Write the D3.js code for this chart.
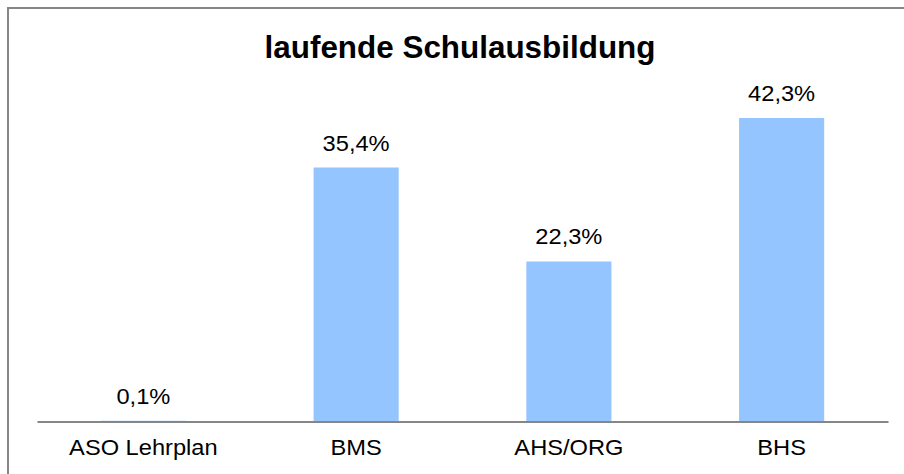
<!DOCTYPE html>
<html>
<head>
<meta charset="utf-8">
<script src="https://cdn.jsdelivr.net/npm/d3@7"></script>
<style>
  html, body { margin: 0; padding: 0; background: #ffffff; }
  svg { display: block; }
  text { font-family: "Liberation Sans", Arial, sans-serif; fill: #000; }
</style>
</head>
<body>
<svg id="chart" width="904" height="474"></svg>
<script>
const titleText = "laufende Schulausbildung";
const categories = ["ASO Lehrplan", "BMS", "AHS/ORG", "BHS"];
const values = [0.1, 35.4, 22.3, 42.3];
const valueLabels = ["0,1%", "35,4%", "22,3%", "42,3%"];

const svg = d3.select("#chart");
const W = 904, H = 474;
const textStretch = 1.1;

// outer frame (cut off at right/bottom like the reference)
svg.append("rect")
  .attr("x", 8).attr("y", 8)
  .attr("width", W + 20).attr("height", H + 20)
  .attr("fill", "#fff")
  .attr("stroke", "#868686")
  .attr("stroke-width", 2);

const x = d3.scaleBand()
  .domain(categories)
  .range([37, 888])
  .paddingInner(0.6)
  .paddingOuter(0.3);

const baseY = 421.5;
const y = d3.scaleLinear()
  .domain([0, 45])
  .range([baseY, baseY - 45 * 7.175]);

const data = categories.map((c, i) => ({ c, v: values[i], lab: valueLabels[i] }));

svg.append("g").selectAll("rect")
  .data(data)
  .join("rect")
  .attr("x", d => x(d.c))
  .attr("y", d => y(d.v))
  .attr("width", x.bandwidth())
  .attr("height", d => y(0) - y(d.v))
  .attr("fill", "#95c5ff");

// baseline axis
const axis = svg.append("g")
  .attr("transform", `translate(0,${baseY})`)
  .call(d3.axisBottom(x).tickSize(0).tickPadding(0));
axis.select(".domain").attr("stroke", "#868686").attr("stroke-width", 2);
axis.selectAll(".tick text")
  .attr("x", 0)
  .attr("y", 34)
  .attr("dy", null)
  .attr("transform", `scale(${textStretch},1)`)
  .attr("font-size", "21.5px")
  .attr("font-family", "'Liberation Sans', Arial, sans-serif")
  .attr("fill", "#000");

// value labels
svg.append("g").selectAll("text")
  .data(data)
  .join("text")
  .attr("transform", d => `translate(${x(d.c) + x.bandwidth() / 2},${y(d.v) - 17}) scale(${textStretch},1)`)
  .attr("text-anchor", "middle")
  .attr("font-size", "21.5px")
  .text(d => d.lab);

// title
svg.append("text")
  .attr("transform", "translate(460,58) scale(1.03,1)")
  .attr("text-anchor", "middle")
  .attr("font-size", "30.5px")
  .attr("font-weight", "bold")
  .text(titleText);
</script>
</body>
</html>
